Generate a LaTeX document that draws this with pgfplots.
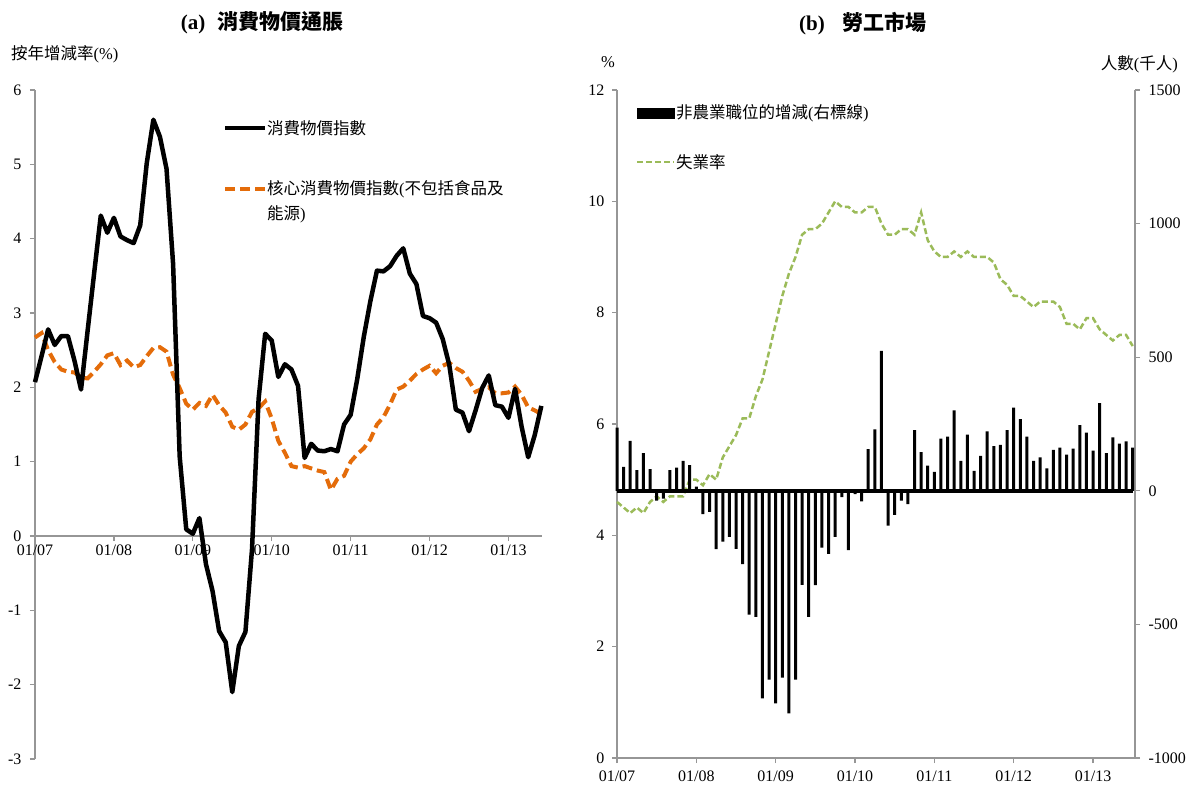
\documentclass[border=0pt]{standalone}
\usepackage{fontspec}
\setmainfont{Liberation Serif}
\newfontfamily\cjk{Noto Sans CJK TC}
\usepackage{pgfplots}
\pgfplotsset{compat=1.18}
\definecolor{axgray}{RGB}{150,150,150}
\definecolor{corange}{RGB}{228,108,10}
\definecolor{cgreen}{RGB}{155,187,89}

\pgfplotstableread{
i cpi core
0 2.07 2.67
1 2.42 2.73
2 2.78 2.50
3 2.57 2.34
4 2.69 2.24
5 2.69 2.21
6 2.36 2.20
7 1.97 2.13
8 2.76 2.12
9 3.54 2.21
10 4.31 2.31
11 4.08 2.43
12 4.28 2.46
13 4.03 2.30
14 3.98 2.36
15 3.94 2.27
16 4.18 2.30
17 5.02 2.42
18 5.60 2.53
19 5.37 2.54
20 4.94 2.48
21 3.66 2.17
22 1.07 1.99
23 0.09 1.78
24 0.03 1.70
25 0.24 1.79
26 -0.38 1.75
27 -0.74 1.90
28 -1.28 1.76
29 -1.43 1.66
30 -2.10 1.47
31 -1.48 1.43
32 -1.29 1.50
33 -0.18 1.67
34 1.84 1.72
35 2.72 1.81
36 2.63 1.58
37 2.14 1.28
38 2.31 1.12
39 2.24 0.94
40 2.02 0.92
41 1.05 0.94
42 1.24 0.91
43 1.15 0.88
44 1.14 0.86
45 1.17 0.62
46 1.14 0.77
47 1.50 0.81
48 1.63 1.00
49 2.11 1.10
50 2.68 1.18
51 3.16 1.30
52 3.57 1.50
53 3.56 1.60
54 3.63 1.77
55 3.77 1.97
56 3.87 2.01
57 3.53 2.09
58 3.39 2.18
59 2.96 2.24
60 2.93 2.29
61 2.87 2.19
62 2.65 2.29
63 2.30 2.33
64 1.70 2.26
65 1.66 2.21
66 1.41 2.09
67 1.69 1.94
68 1.99 1.98
69 2.16 2.00
70 1.76 1.92
71 1.74 1.92
72 1.59 1.93
73 1.98 2.01
74 1.47 1.90
75 1.06 1.73
76 1.36 1.69
77 1.75 1.64
}\cpidata

\pgfplotstableread{
i jobs unemp
0 236 4.6
1 90 4.5
2 187 4.4
3 77 4.5
4 141 4.4
5 81 4.6
6 -37 4.7
7 -29 4.6
8 77 4.7
9 87 4.7
10 112 4.7
11 96 5.0
12 16 5.0
13 -87 4.9
14 -79 5.1
15 -218 5.0
16 -190 5.4
17 -172 5.6
18 -217 5.8
19 -274 6.1
20 -463 6.1
21 -472 6.5
22 -777 6.8
23 -707 7.3
24 -796 7.8
25 -699 8.3
26 -833 8.7
27 -707 9.0
28 -352 9.4
29 -472 9.5
30 -353 9.5
31 -213 9.6
32 -236 9.8
33 -172 10.0
34 -24 9.9
35 -222 9.9
36 -12 9.8
37 -40 9.8
38 156 9.9
39 230 9.9
40 524 9.6
41 -130 9.4
42 -90 9.4
43 -37 9.5
44 -50 9.5
45 227 9.4
46 145 9.8
47 94 9.3
48 71 9.1
49 195 9.0
50 203 9.0
51 301 9.1
52 112 9.0
53 210 9.1
54 75 9.0
55 131 9.0
56 222 9.0
57 167 8.9
58 172 8.6
59 227 8.5
60 311 8.3
61 268 8.3
62 203 8.2
63 112 8.1
64 125 8.2
65 84 8.2
66 153 8.2
67 162 8.1
68 135 7.8
69 158 7.8
70 246 7.7
71 218 7.9
72 150 7.9
73 328 7.7
74 141 7.6
75 200 7.5
76 177 7.6
77 185 7.6
78 162 7.4
}\labdata

\pgfplotsset{
  every axis/.append style={
    scale only axis,
    tick label style={font=\fontsize{16}{19}\selectfont},
    /pgf/number format/assume math mode=true,
    /pgf/number format/1000 sep={},
    scaled y ticks=false,
    axis line style={axgray, line width=1.2pt},
    tick style={axgray, line width=1.2pt},
    major tick length=5pt,
    tick align=outside,
    clip=false,
  }
}

\begin{document}
\begin{tikzpicture}[x=1pt,y=1pt,font=\fontsize{16.5}{19}\selectfont]
\path[use as bounding box] (0,0) rectangle (1188,785);

% ---------- Panel (a) ----------
\begin{axis}[
  width=507pt, height=669pt,
  at={(35pt,26pt)}, anchor=south west,
  xmin=0, xmax=77.1, ymin=-3, ymax=6,
  axis x line*=middle, axis y line*=left,
  hide obscured x ticks=false, hide obscured y ticks=false,
  xtick={0,12,24,36,48,60,72},
  xticklabels={01/07,01/08,01/09,01/10,01/11,01/12,01/13},
  ytick={-3,-2,-1,0,1,2,3,4,5,6},
  yticklabel style={xshift=-5pt},
]
\addplot[corange, line width=4pt, dash pattern=on 10pt off 5pt] table[x=i, y=core] {\cpidata};
\addplot[black, line width=4.5pt, line join=round] table[x=i, y=cpi] {\cpidata};
\end{axis}

% ---------- Panel (b) ----------
\begin{axis}[
  width=518pt, height=668pt,
  at={(617pt,27pt)}, anchor=south west,
  xmin=0, xmax=78.35, ymin=0, ymax=12,
  axis x line*=bottom, axis y line*=left,
  xtick={0,12,24,36,48,60,72},
  xticklabels={01/07,01/08,01/09,01/10,01/11,01/12,01/13},
  xticklabel style={yshift=-4pt},
  ytick={0,2,4,6,8,10,12},
  yticklabel style={xshift=-4pt},
]
\addplot[cgreen, line width=2.5pt, dash pattern=on 6pt off 3pt] table[x=i, y=unemp] {\labdata};
\end{axis}

\begin{axis}[
  width=518pt, height=668pt,
  at={(617pt,27pt)}, anchor=south west,
  xmin=0, xmax=78.35, ymin=-1000, ymax=1500,
  axis x line=none, axis y line*=right,
  ytick={-1000,-500,0,500,1000,1500},
  yticklabel style={xshift=5pt},
  ybar, bar width=3pt,
]
\draw[black, line width=4pt] (axis cs:0,0) -- (axis cs:78.1,0);
\addplot[fill=black, draw=none] table[x=i, y=jobs] {\labdata};
\end{axis}

% ---------- titles and labels ----------
\node[font=\fontsize{21}{24}\selectfont\bfseries] at (262,762) {(a)\hspace{12pt}{\cjk 消費物價通脹}};
\node[font=\fontsize{21}{24}\selectfont\bfseries] at (863,761) {(b)\hspace{18pt}{\cjk 勞工市場}};
\node[anchor=west, inner sep=0pt] at (11,731) {{\cjk 按年增減率}(\%)};
\node[inner sep=0pt] at (608,723) {\%};
\node[anchor=east, inner sep=0pt] at (1178,721) {{\cjk 人數}({\cjk 千人})};

% ---------- legends ----------
\draw[black, line width=4.5pt] (225,657) -- (265,657);
\node[anchor=west, inner sep=0pt] at (267,657) {\cjk 消費物價指數};
\draw[corange, line width=4pt, dash pattern=on 10pt off 5pt] (225,596) -- (265,596);
\node[anchor=west, inner sep=0pt] at (267,596) {{\cjk 核心消費物價指數}({\cjk 不包括食品及}};
\node[anchor=west, inner sep=0pt] at (267,571) {{\cjk 能源})};

\fill[black] (637,666) rectangle (675,677);
\node[anchor=west, inner sep=0pt] at (676,672) {{\cjk 非農業職位的增減}({\cjk 右標線})};
\draw[cgreen, line width=2.5pt, dash pattern=on 6pt off 3pt] (637,623) -- (674,623);
\node[anchor=west, inner sep=0pt] at (676,623) {\cjk 失業率};
\end{tikzpicture}
\end{document}
